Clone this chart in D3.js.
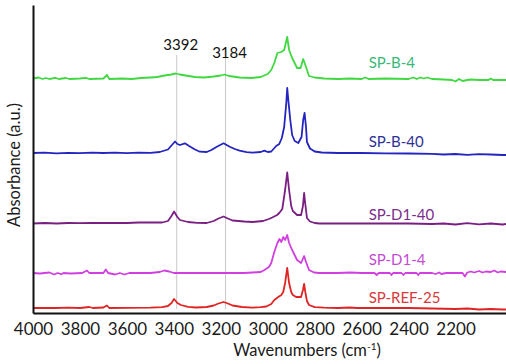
<!DOCTYPE html>
<html>
<head>
<meta charset="utf-8">
<script src="https://cdn.jsdelivr.net/npm/d3@7"></script>
<style>
  body { margin: 0; background: #fff; }
  svg { display: block; font-family: Lato, 'Open Sans', sans-serif; }
  .tick text { fill: #1a1a1a; }
</style>
</head>
<body>
<div id="chart"></div>
<script>
// Spectra: [wavenumber, absorbance above own baseline]
const spB4 = [[4000,0.05],[3975,0.15],[3960,0],[3945,0.1],[3930,0],[3905,0.12],[3890,0],[3860,0.1],[3845,0],[3800,0.05],[3775,0.12],[3760,0],[3700,0.05],[3685,0.4],[3675,0],[3620,0.05],[3580,0],[3540,0.1],[3500,0.15],[3470,0.2],[3440,0.35],[3410,0.45],[3392,0.55],[3375,0.45],[3350,0.35],[3310,0.2],[3270,0.15],[3230,0.25],[3200,0.35],[3184,0.45],[3165,0.3],[3120,0.15],[3070,0.1],[3030,0.2],[3000,0.5],[2985,0.9],[2972,1.6],[2959,2.6],[2942,2.7],[2930,2.9],[2917,4.2],[2909,2.9],[2896,2.1],[2875,1.1],[2860,1.1],[2849,2.0],[2837,1.2],[2824,0.3],[2800,0.15],[2760,0.05],[2700,0],[2650,0.05],[2600,0],[2585,0.15],[2570,0],[2500,0.05],[2400,0],[2380,0.15],[2365,0],[2350,0.15],[2335,0.05],[2320,0.15],[2300,0],[2250,-0.05],[2215,-0.1],[2200,-0.25],[2185,0],[2170,-0.2],[2150,-0.1],[2135,-0.05],[2100,-0.1],[2060,-0.1],[2050,0.05],[2040,-0.1],[2000,-0.1],[1985,-0.1]];
const spB40 = [[4000,0],[3950,0.03],[3900,-0.03],[3850,0.02],[3800,-0.02],[3750,0.03],[3700,0],[3650,0.03],[3600,-0.02],[3550,0.03],[3500,0.02],[3460,0.1],[3425,0.35],[3408,0.8],[3395,1.15],[3385,0.9],[3374,0.8],[3353,0.97],[3335,0.7],[3310,0.35],[3289,0.13],[3260,0.1],[3240,0.3],[3217,0.63],[3188,0.97],[3162,0.63],[3140,0.4],[3120,0.23],[3090,0.08],[3065,0.03],[3030,0.1],[3014,0.23],[3000,0.1],[2985,0.15],[2964,0.7],[2951,0.9],[2940,1.5],[2930,2.6],[2921,5.0],[2917,6.5],[2912,5.2],[2909,4.5],[2904,3.3],[2896,1.8],[2885,1.2],[2870,1.0],[2856,1.6],[2849,3.3],[2843,4.0],[2837,2.6],[2833,1.1],[2820,0.45],[2800,0.15],[2770,0.05],[2700,0],[2600,0],[2500,-0.03],[2400,-0.05],[2300,-0.08],[2250,-0.15],[2200,-0.1],[2150,-0.18],[2100,-0.12],[2050,-0.15],[2000,-0.2],[1985,-0.2]];
const spD140 = [[4000,0.05],[3950,0.1],[3900,0.05],[3850,0.1],[3800,0.08],[3750,0.12],[3700,0.1],[3650,0.12],[3600,0.1],[3550,0.15],[3500,0.15],[3450,0.15],[3425,0.3],[3410,0.8],[3399,1.25],[3385,0.7],[3374,0.4],[3340,0.2],[3300,0.12],[3260,0.1],[3230,0.3],[3210,0.55],[3188,0.75],[3170,0.55],[3150,0.35],[3100,0.25],[3065,0.2],[3020,0.3],[2995,0.5],[2981,0.65],[2960,0.9],[2951,1.1],[2938,1.5],[2926,3.4],[2917,5.15],[2909,3.4],[2900,1.8],[2893,1.3],[2875,0.9],[2858,0.9],[2850,1.8],[2845,3.1],[2840,2.0],[2833,0.6],[2820,0.25],[2800,0.1],[2780,0.05],[2700,0.05],[2600,0.05],[2500,0.05],[2400,0.05],[2300,0],[2250,0.05],[2200,-0.05],[2150,0.08],[2100,-0.03],[2050,0.05],[2000,-0.05],[1985,0]];
const spD14 = [[4000,0],[3970,-0.05],[3930,0.05],[3910,-0.15],[3895,0],[3880,-0.12],[3870,0],[3840,-0.05],[3790,0],[3770,0.25],[3760,0],[3700,0],[3690,0.35],[3680,0],[3650,-0.15],[3630,0],[3610,-0.15],[3590,0],[3500,0],[3460,0.1],[3440,0.25],[3420,0.15],[3400,0],[3300,0],[3200,0],[3100,0],[3030,0.1],[3014,0.3],[2995,0.6],[2985,1.0],[2972,2.1],[2959,3.0],[2950,3.4],[2942,3.1],[2934,3.6],[2926,3.3],[2917,3.8],[2909,3.0],[2896,2.3],[2875,1.3],[2858,1.0],[2845,1.7],[2837,1.1],[2824,0.3],[2803,0.05],[2780,0],[2700,0],[2650,0.05],[2600,0],[2545,0],[2536,-0.2],[2527,0],[2480,0],[2473,-0.2],[2466,0],[2430,0],[2422,-0.2],[2414,0],[2366,0],[2359,-0.2],[2352,0],[2300,0],[2285,-0.1],[2270,0.05],[2260,-0.1],[2240,0],[2200,0],[2170,0],[2160,-0.35],[2150,0.05],[2135,0.15],[2120,0.05],[2100,0.2],[2085,0.05],[2070,0.15],[2050,0.1],[2035,0.25],[2020,0.05],[2008,0.15],[1985,0.1]];
const spREF25 = [[4000,0],[3950,0.02],[3900,0],[3850,0.03],[3800,0],[3760,0.1],[3745,0],[3700,0.05],[3685,0.25],[3675,0],[3600,0.02],[3500,0.03],[3450,0.08],[3425,0.2],[3410,0.5],[3399,0.9],[3385,0.5],[3370,0.3],[3340,0.12],[3306,0.05],[3260,0.1],[3230,0.25],[3210,0.45],[3188,0.6],[3170,0.45],[3150,0.25],[3110,0.1],[3065,0.03],[3030,0.08],[3006,0.15],[2985,0.4],[2972,0.8],[2955,1.1],[2942,1.3],[2934,1.6],[2926,2.5],[2917,4.0],[2909,2.5],[2900,1.6],[2893,1.3],[2879,1.1],[2858,1.1],[2850,1.8],[2845,2.4],[2840,1.6],[2833,0.7],[2824,0.3],[2800,0.08],[2760,0.03],[2700,0],[2650,0.05],[2620,0],[2500,0],[2400,0],[2300,-0.05],[2200,-0.1],[2150,-0.05],[2100,-0.15],[2050,-0.1],[2000,-0.15],[1985,-0.15]];

const seriesNames = ['SP-B-4', 'SP-B-40', 'SP-D1-40', 'SP-D1-4', 'SP-REF-25'];
const seriesData = [spB4, spB40, spD140, spD14, spREF25];
const offsets = [23.4, 16.0, 8.9, 4.0, 0.5];   // vertical stacking offsets (a.u.)
const peakMarks = [3392, 3184];
const xTicks = [4000, 3800, 3600, 3400, 3200, 3000, 2800, 2600, 2400, 2200];

const lineColors = ['#40d840', '#2424c0', '#7a1f82', '#d040e0', '#e02424'];
const labelColors = ['#3bb878', '#2e3196', '#7c2e8c', '#c24cd2', '#d63a3a'];
const labelDy = [-11, -6, -4, -8, -5];

const W = 506, H = 364;
const margin = { left: 33, right: 0, top: 5, bottom: 51 };

const svg = d3.select('#chart').append('svg')
  .attr('width', W)
  .attr('height', H);

const x = d3.scaleLinear().domain([4000, 1985]).range([margin.left, W - margin.right]);
const y = d3.scaleLinear().domain([0, 30.8]).range([H - margin.bottom, margin.top]);

// peak marker lines
svg.selectAll('.peak-line')
  .data(peakMarks)
  .enter().append('line')
  .attr('class', 'peak-line')
  .attr('x1', d => x(d) + 1).attr('x2', d => x(d) + 1)
  .attr('y1', (d, i) => i === 0 ? 55 : 58)
  .attr('y2', y(0.4))
  .attr('stroke', '#c9c9c9')
  .attr('stroke-width', 1);

svg.selectAll('.peak-label')
  .data(peakMarks)
  .enter().append('text')
  .attr('class', 'peak-label')
  .attr('x', d => x(d) + 5)
  .attr('y', (d, i) => i === 0 ? 50 : 58)
  .attr('text-anchor', 'middle')
  .attr('font-size', 15)
  .attr('fill', '#111')
  .text(d => d);

// spectra
const line = d3.line()
  .x(d => x(d[0]))
  .y(d => y(d[1]));

seriesData.forEach((s, i) => {
  svg.append('path')
    .datum(s.map(d => [d[0], d[1] + offsets[i]]))
    .attr('fill', 'none')
    .attr('stroke', lineColors[i])
    .attr('stroke-width', 1.8)
    .attr('stroke-linejoin', 'round')
    .attr('d', line);
  svg.append('text')
    .attr('x', x(2570))
    .attr('y', y(offsets[i]) + labelDy[i])
    .attr('font-size', 15)
    .attr('fill', labelColors[i])
    .text(seriesNames[i]);
});

// axes
const xAxis = svg.append('g')
  .attr('transform', 'translate(0,' + y(0) + ')')
  .call(d3.axisBottom(x).tickValues(xTicks).tickFormat(d3.format('d')).tickSize(0).tickSizeOuter(0).tickPadding(10));
xAxis.select('.domain').attr('stroke', '#111').attr('stroke-width', 2);
xAxis.selectAll('.tick text').attr('font-size', 17).attr('font-family', 'Lato');

svg.append('g')
  .attr('transform', 'translate(' + margin.left + ',0)')
  .call(d3.axisLeft(y).tickValues([]).tickSizeOuter(0))
  .select('.domain').attr('stroke', '#111').attr('stroke-width', 2);

// axis titles
const xt = svg.append('text')
  .attr('x', 307)
  .attr('y', 356)
  .attr('text-anchor', 'middle')
  .attr('font-size', 16.5)
  .attr('fill', '#1a1a1a');
xt.append('tspan').text('Wavenumbers (cm');
xt.append('tspan').attr('dy', -6).attr('font-size', 10).text('-1');
xt.append('tspan').attr('dy', 6).text(')');

svg.append('text')
  .attr('transform', 'translate(20,' + 165 + ') rotate(-90)')
  .attr('text-anchor', 'middle')
  .attr('font-size', 16.5)
  .attr('fill', '#1a1a1a')
  .text('Absorbance (a.u.)');
</script>
</body>
</html>
